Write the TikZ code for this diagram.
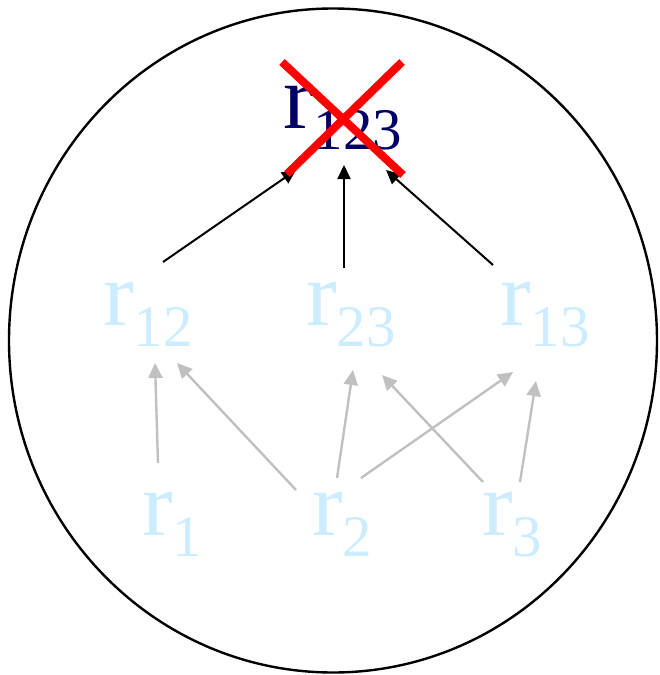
\documentclass[tikz,border=0pt]{standalone}
\usepackage{fontspec}
\setmainfont{Liberation Serif}
\usetikzlibrary{arrows.meta}
\definecolor{lightlbl}{HTML}{CCECFF}
\definecolor{navylbl}{HTML}{000066}
\definecolor{grayarrow}{HTML}{C0C0C0}
\newcommand{\rlab}[1]{r\raisebox{-21pt}{\fontsize{59}{59}\selectfont #1}}
\begin{document}
\begin{tikzpicture}[x=1pt,y=-1pt,
  lbl/.style={anchor=base west, inner sep=0pt, font=\fontsize{92}{92}\selectfont},
  faded/.style={lbl, text=lightlbl},
  toparrow/.style={draw=black, line width=2pt, -{Triangle[length=14pt,width=13pt]}},
  lowarrow/.style={draw=grayarrow, line width=2.4pt, -{Triangle[length=15pt,width=14pt]}},
  crossline/.style={draw=red, line width=8pt}]
\useasboundingbox (0,0) rectangle (659,675);
\draw[line width=2.4pt] (333,340.5) ellipse [x radius=324pt, y radius=332pt];

% labels
\node[lbl, text=navylbl] (r123) at (283,128) {\rlab{123}};
\node[faded] (r12) at (103,325) {\rlab{12}};
\node[faded] (r23) at (306,325) {\rlab{23}};
\node[faded] (r13) at (500,325) {\rlab{13}};
\node[faded] (r1) at (142,535) {\rlab{1}};
\node[faded] (r2) at (312,535) {\rlab{2}};
\node[faded] (r3) at (482,535) {\rlab{3}};

% arrow end points
\coordinate (a12s) at (163,262); \coordinate (a12e) at (296,170);
\coordinate (a23s) at (344,268); \coordinate (a23e) at (344,165);
\coordinate (a13s) at (493,265); \coordinate (a13e) at (386,170);

\coordinate (b1s) at (158,463); \coordinate (b1e) at (155,363);
\coordinate (b2s) at (296,490); \coordinate (b2e) at (177,363);
\coordinate (b3s) at (337,478); \coordinate (b3e) at (353,370);
\coordinate (b4s) at (361,478); \coordinate (b4e) at (513,372);
\coordinate (b5s) at (483,482); \coordinate (b5e) at (382,375);
\coordinate (b6s) at (520,482); \coordinate (b6e) at (536,381);

\draw[toparrow] (a12s) -- (a12e);
\draw[toparrow] (a23s) -- (a23e);
\draw[toparrow] (a13s) -- (a13e);

\draw[lowarrow] (b1s) -- (b1e);
\draw[lowarrow] (b2s) -- (b2e);
\draw[lowarrow] (b3s) -- (b3e);
\draw[lowarrow] (b4s) -- (b4e);
\draw[lowarrow] (b5s) -- (b5e);
\draw[lowarrow] (b6s) -- (b6e);

% red cross
\draw[crossline] (282,62) -- (403,175);
\draw[crossline] (402,62) -- (287,174);
\end{tikzpicture}
\end{document}
